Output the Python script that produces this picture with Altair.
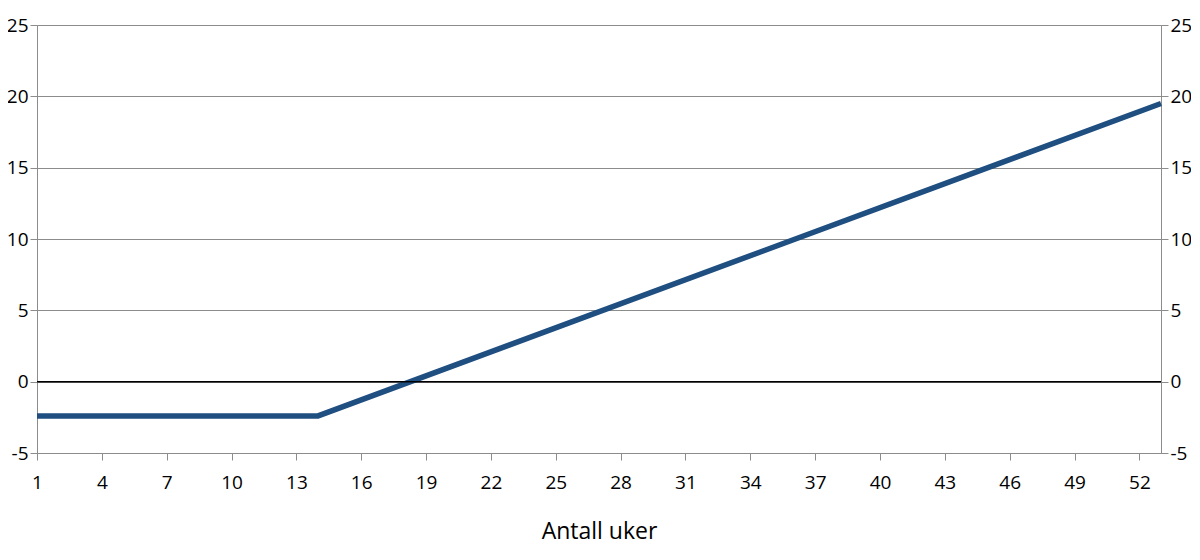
import altair as alt
import pandas as pd

weeks = [1, 14, 53]
values = [-2.4, -2.4, 19.5]
x_ticks = list(range(1, 53, 3))
y_ticks = [-5, 0, 5, 10, 15, 20, 25]

df = pd.DataFrame({"uke": weeks, "verdi": values})
FONT = "Open Sans"
GRAY = "#8c8c8c"
LBL = "toString(datum.value)"

xscale = alt.Scale(domain=[1, 53], nice=False, zero=False)
yscale = alt.Scale(domain=[-5, 25], nice=False, zero=False)

xaxis = alt.Axis(values=x_ticks, title="Antall uker", grid=False, domainColor=GRAY,
                 tickColor=GRAY, tickSize=7, labelFontSize=19, labelFont=FONT,
                 labelColor="#000", labelPadding=13, titleFontSize=23, titleFont=FONT,
                 titleFontWeight="normal", titleColor="#000", titlePadding=28,
                 labelFlush=False, labelExpr=LBL)

def yaxis(orient, grid):
    return alt.Axis(values=y_ticks, title=None, orient=orient, grid=grid,
                    gridColor=GRAY, gridWidth=1, domainColor=GRAY, tickColor=GRAY,
                    tickSize=7, labelFontSize=19, labelFont=FONT, labelColor="#000",
                    labelPadding=2, labelExpr=LBL)

X = alt.X("uke:Q", scale=xscale, axis=xaxis)

line = alt.Chart(df).mark_line(color="#1f4e80", strokeWidth=5.5).encode(
    x=X,
    y=alt.Y("verdi:Q", scale=yscale, axis=yaxis("left", True)),
)

right = alt.Chart(df).mark_line(opacity=0).encode(
    x=X,
    y=alt.Y("verdi:Q", scale=yscale, axis=yaxis("right", False)),
)

zero = alt.Chart(pd.DataFrame({"y": [0]})).mark_rule(color="#000", strokeWidth=1.5).encode(
    y=alt.Y("y:Q", scale=yscale, axis=None)
)

chart = alt.layer(line, zero, right).resolve_scale(y="independent").properties(
    width=1124, height=428, autosize=alt.AutoSizeParams(type="none"),
    padding={"left": 29, "top": 17, "right": 30, "bottom": 100}
).configure_view(stroke=None).configure(background="white")

chart.save("out.html", embed_options={"renderer": "svg", "actions": False})
